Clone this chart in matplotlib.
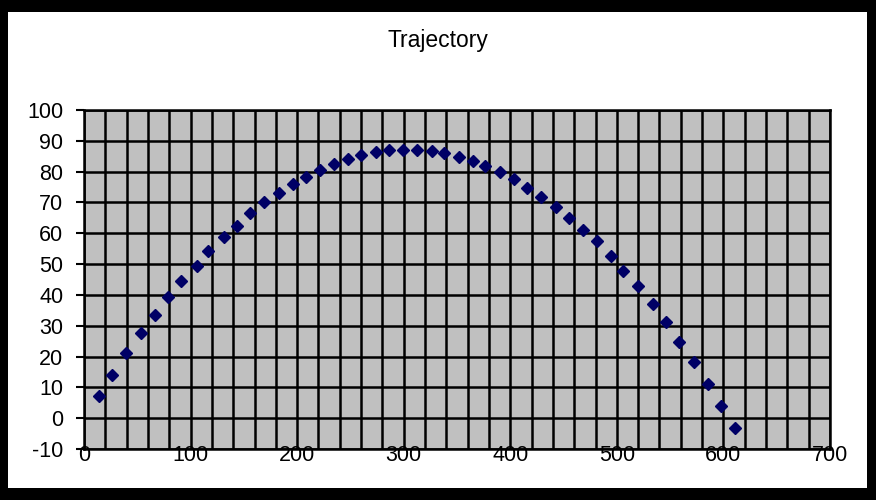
import matplotlib
matplotlib.use("Agg")
import matplotlib.pyplot as plt
from matplotlib.patches import Rectangle

# Data
x_vals = [14.1, 26.6, 39.7, 53.5, 66.3, 78.8, 91.3, 105.7, 116.6, 131.4,
          143.8, 155.8, 168.9, 183.0, 196.1, 208.0, 221.4, 234.9, 247.4, 259.9,
          274.0, 285.9, 299.6, 312.2, 326.3, 337.8, 351.9, 364.7, 376.3, 390.4,
          403.5, 416.0, 428.8, 442.9, 455.4, 468.5, 481.1, 494.5, 506.2, 520.1,
          533.5, 545.7, 558.3, 572.4, 585.5, 597.5, 610.9]
y_vals = [7.1, 14.0, 21.0, 27.5, 33.4, 39.2, 44.5, 49.4, 54.3, 58.9,
          62.3, 66.5, 70.1, 73.1, 76.0, 78.1, 80.5, 82.5, 84.1, 85.4,
          86.4, 87.1, 87.1, 87.1, 86.6, 85.9, 84.8, 83.4, 81.9, 80.0,
          77.6, 74.8, 71.9, 68.4, 64.8, 61.0, 57.5, 52.6, 47.9, 42.9,
          36.9, 31.2, 24.6, 18.1, 11.0, 4.1, -3.3]
x_ticks = [0, 100, 200, 300, 400, 500, 600, 700]
y_ticks = [-10, 0, 10, 20, 30, 40, 50, 60, 70, 80, 90, 100]
title = "Trajectory"

W, H = 876, 500
fig = plt.figure(figsize=(W / 100, H / 100), dpi=100)
fig.patch.set_facecolor("black")
fig.patches.append(Rectangle((8 / W, 12 / H), (867 - 8) / W, (488 - 12) / H,
                             transform=fig.transFigure, facecolor="white",
                             edgecolor="none", zorder=-10))

font = ["Liberation Sans", "DejaVu Sans"]
ax = fig.add_axes([84 / W, (H - 449) / H, (830 - 84) / W, (449 - 110) / H])
ax.set_zorder(1)
ax.set_facecolor("#c0c0c0")
ax.set_xlim(0, 700)
ax.set_ylim(-10, 100)

ax.set_xticks(x_ticks)
ax.set_xticks(list(range(0, 701, 20)), minor=True)
ax.set_yticks(y_ticks)
ax.set_xticklabels([str(v) for v in x_ticks], fontsize=15.5, family=font)
ax.set_yticklabels([str(v) for v in y_ticks], fontsize=15.5, family=font)
ax.tick_params(axis="x", which="both", length=0, pad=-3)
ax.tick_params(axis="y", length=6, width=1.5, color="black", pad=9)

ax.grid(True, which="major", axis="y", color="black", linewidth=1.8)
ax.grid(True, which="both", axis="x", color="black", linewidth=1.8)
ax.set_axisbelow(True)
for s in ax.spines.values():
    s.set_color("black")
    s.set_linewidth(1.8)

ax.plot(x_vals, y_vals, linestyle="none", marker="D", markersize=6.4,
        color="#000066", markeredgecolor="#000066", zorder=3, clip_on=False)

fig.text(438 / W, 1 - 41 / H, title, fontsize=16.5, family=font,
         ha="center", va="center", zorder=2)

fig.savefig("out.png", dpi=100, facecolor=fig.get_facecolor())
